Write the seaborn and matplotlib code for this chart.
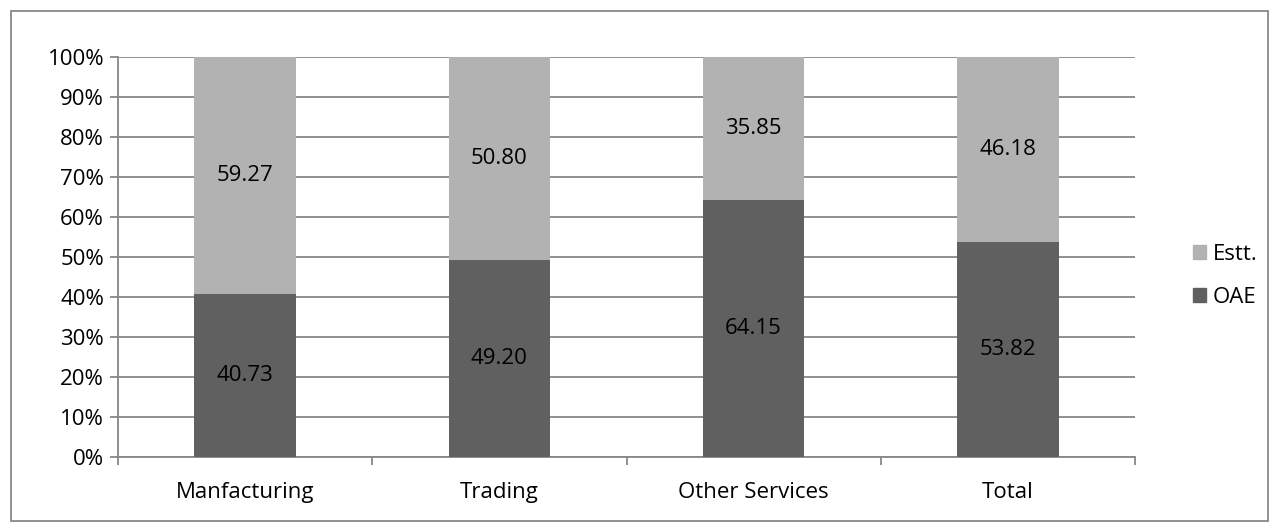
import numpy as np
import pandas as pd
import matplotlib.pyplot as plt
import seaborn as sns
from matplotlib.patches import Rectangle
from matplotlib.ticker import PercentFormatter

categories = ["Manfacturing", "Trading", "Other Services", "Total"]
oae = [40.73, 49.20, 64.15, 53.82]
estt = [59.27, 50.80, 35.85, 46.18]

dark = "#606060"
light = "#b2b2b2"
grid_c = "#878787"

sns.set_theme(style="white")
plt.rcParams["font.family"] = ["Open Sans", "DejaVu Sans"]
plt.rcParams["text.color"] = "black"
plt.rcParams["xtick.color"] = "black"
plt.rcParams["ytick.color"] = "black"

df = pd.DataFrame({"category": categories, "OAE": oae, "Estt.": estt})
df["total"] = df["OAE"] + df["Estt."]

fig = plt.figure(figsize=(12.79, 5.29), dpi=100)
ax = fig.add_axes([118 / 1279, 1 - 457 / 529, (1135 - 118) / 1279, 400 / 529])

# top (Estt.) drawn as full stack, bottom (OAE) on top of it
sns.barplot(data=df, x="category", y="total", color=light, width=0.4,
            saturation=1, ax=ax, zorder=3)
sns.barplot(data=df, x="category", y="OAE", color=dark, width=0.4,
            saturation=1, ax=ax, zorder=3)
if ax.get_legend() is not None:
    ax.get_legend().remove()

for p in ax.patches:
    p.set_edgecolor("none")

fs = 16
# value labels
for i, (o, e) in enumerate(zip(oae, estt)):
    ax.text(i, o / 2, f"{o:.2f}", ha="center", va="center", fontsize=fs, color="black", zorder=4)
    ax.text(i, o + e / 2, f"{e:.2f}", ha="center", va="center", fontsize=fs, color="black", zorder=4)

ax.set_ylim(0, 100)
ax.set_xlim(-0.5, 3.5)
ax.set_yticks(np.arange(0, 101, 10))
ax.yaxis.set_major_formatter(PercentFormatter(decimals=0))
ax.yaxis.grid(True, color=grid_c, linewidth=1.3, zorder=0)
ax.set_axisbelow(True)
ax.set_xlabel("")
ax.set_ylabel("")

for s in ["top", "right"]:
    ax.spines[s].set_visible(False)
for s in ["left", "bottom"]:
    ax.spines[s].set_color(grid_c)
    ax.spines[s].set_linewidth(1.3)

ax.tick_params(axis="y", left=True, length=6, width=1.3, color=grid_c, labelsize=fs, pad=4)
ax.tick_params(axis="x", bottom=False, labelsize=fs, pad=12)
ax.set_xticks(range(len(categories)))
ax.set_xticklabels(categories)
ax.set_xticks(np.arange(-0.5, 4, 1), minor=True)
ax.tick_params(axis="x", which="minor", bottom=True, length=6, width=1.3, color=grid_c)

handles = [Rectangle((0, 0), 1, 1, color=light), Rectangle((0, 0), 1, 1, color=dark)]
fig.legend(handles, ["Estt.", "OAE"], loc="center left", bbox_to_anchor=(1193 / 1279, 1 - 276 / 529),
           frameon=False, fontsize=fs, handlelength=0.6, handleheight=0.6, borderpad=0,
           borderaxespad=0, handletextpad=0.3, labelspacing=1.0)

fig.patches.append(Rectangle((11 / 1279, 8 / 529), 1257 / 1279, 510 / 529, transform=fig.transFigure,
                             fill=False, edgecolor="#888888", linewidth=1.3))

fig.savefig("out.png", dpi=100, facecolor="white")
